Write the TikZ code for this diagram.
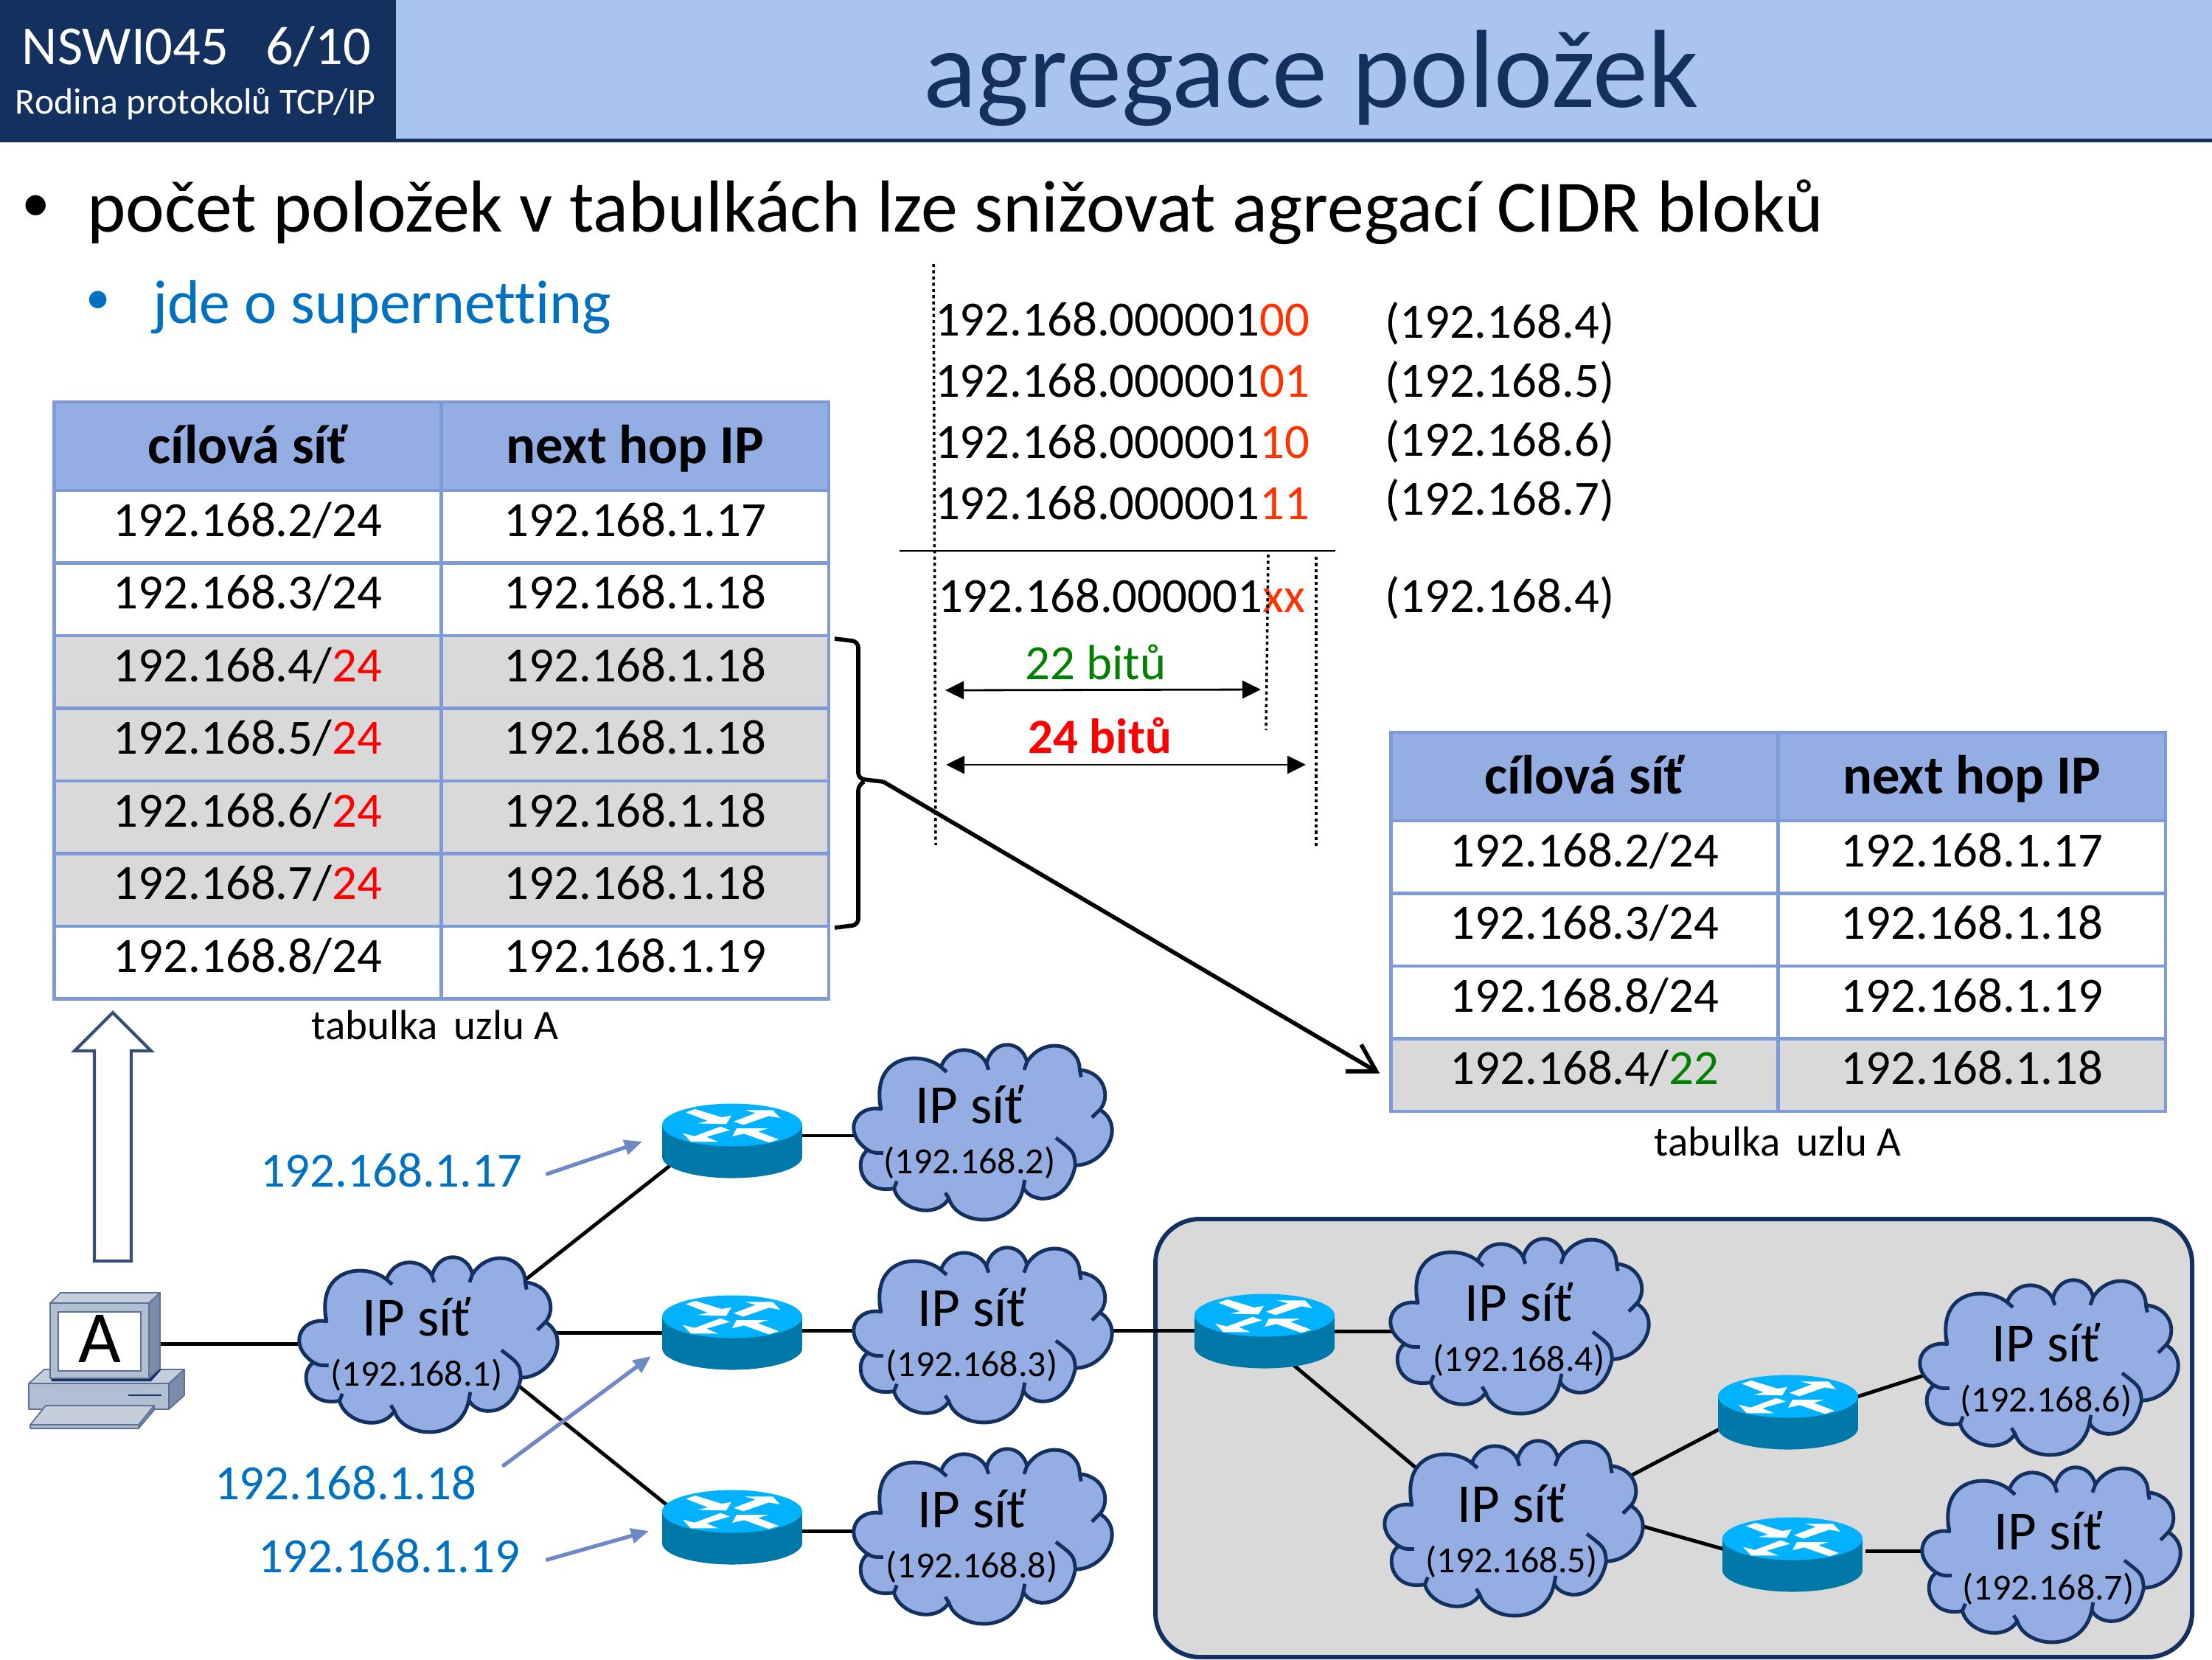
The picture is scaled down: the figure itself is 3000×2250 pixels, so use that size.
\documentclass[tikz,border=0pt]{standalone}
\usepackage{fontspec}
\setmainfont[Ligatures=NoCommon]{Carlito}
\usepackage{tikz}
\usepackage{xcolor}
\definecolor{navy_dark}{HTML}{14305F}
\definecolor{band_blue}{HTML}{A9C4EE}
\definecolor{text_blue}{HTML}{0070C0}
\definecolor{cell_line}{HTML}{7F9AD8}
\definecolor{head_blue}{HTML}{94AEE3}
\definecolor{row_grey}{HTML}{D9D9D9}
\definecolor{bit_red}{HTML}{FF3300}
\definecolor{bit_green}{HTML}{008000}
\definecolor{hint_blue}{HTML}{6F88C6}
\definecolor{router_top}{HTML}{00B2FF}
\definecolor{router_side}{HTML}{0078A8}
\definecolor{pc_face}{HTML}{B2BED2}
\definecolor{pc_top}{HTML}{C5CEDC}
\definecolor{pc_side}{HTML}{7B8CA8}
\definecolor{pc_line}{HTML}{5D7194}
\usetikzlibrary{positioning,calc,arrows.meta}
\pgfdeclarelayer{links}
\pgfsetlayers{links,main}
\newcommand{\netaddr}[1]{{\fontsize{14.2}{19.3}\selectfont #1}}
\tikzset{CELL/.style={rectangle,draw=cell_line,line width=1.3pt,outer sep=0pt,inner sep=0pt,minimum width=5.25cm,minimum height=0.984cm,text height=12pt,text depth=4.6pt,font=\fontsize{19}{23}\selectfont}}
\tikzset{HEADCELL/.style={CELL,fill=head_blue,minimum height=1.2cm,text height=16pt,text depth=2.4pt,font=\fontsize{21.2}{25}\selectfont\bfseries}}
\tikzset{GREYCELL/.style={CELL,fill=row_grey}}
\tikzset{PLAIN/.style={inner sep=0pt,outer sep=0pt,anchor=base west,font=\fontsize{19}{23}\selectfont}}
\tikzset{CAPTION/.style={inner sep=0pt,anchor=base,font=\fontsize{16.2}{20}\selectfont}}
\tikzset{LINK/.style={line width=1.4pt,black}}
\tikzset{HINT/.style={line width=1.5pt,hint_blue,-{Triangle[length=0.24cm,width=0.2cm]}}}
\tikzset{SPAN/.style={line width=0.8pt,black,{Triangle[length=0.25cm,width=0.24cm]}-{Triangle[length=0.25cm,width=0.24cm]}}}
\tikzset{GUIDE/.style={line width=1pt,black,dash pattern=on 1.2pt off 1.2pt}}
\tikzset{ROUTERBOX/.style={rectangle,inner sep=0pt,outer sep=0pt,minimum width=1.9cm,minimum height=1.01cm}}
\tikzset{CLOUDTEXT/.style={inner sep=0pt,align=center,font=\fontsize{21.3}{19.3}\selectfont}}
\tikzset{CLOUDLINE/.style={draw=navy_dark,line width=1.4pt,line join=round}}
\tikzset{PCPART/.style={draw=pc_line,line width=0.5pt,line join=round}}
\tikzset{pics/router/.style={code={
  \fill[router_side] (-95,-21.5) rectangle (95,21.5);
  \fill[router_side] (0,21.5) ellipse (95 and 29);
  \fill[router_top] (0,-21.5) ellipse (95 and 29);
  \fill[white] (-63,-38.7) -- (-50,-43) -- (-14,-32) -- (-1,-34.3) -- (-8,-22.7) -- (-47,-23.7) -- (-33,-27) -- cycle;
  \fill[white] (2,-26.3) -- (32,-37.7) -- (17,-41.7) -- (55,-41.7) -- (65,-31) -- (50,-33.7) -- (15,-21.7) -- cycle;
  \fill[white] (-16,-19.3) -- (-3,-14.7) -- (-35,-5.3) -- (-19,1.3) -- (-56,1.3) -- (-67,-10.3) -- (-51,-6.3) -- cycle;
  \fill[white] (0,-6) -- (6,-17) -- (49,-17) -- (35,-12.7) -- (63,-2) -- (50,2.3) -- (16,-9.7) -- cycle;
}}}
\tikzset{pics/ipcloud/.style={code={
  \begin{scope}[scale=0.98]
  \path[CLOUDLINE,fill=head_blue] (-140,-34)
    .. controls (-175,-40) and (-195,-2) .. (-158,23)
    .. controls (-178,35) and (-170,85) .. (-122,76)
    .. controls (-115,105) and (-65,120) .. (-46,90)
    .. controls (-35,128) and (45,135) .. (57,75)
    .. controls (68,98) and (118,100) .. (129,44)
    .. controls (170,44) and (200,-10) .. (163,-33)
    .. controls (178,-50) and (170,-85) .. (135,-88)
    .. controls (135,-125) and (85,-135) .. (62,-99)
    .. controls (55,-130) and (15,-132) .. (6,-97)
    .. controls (-5,-120) and (-45,-125) .. (-57,-92)
    .. controls (-85,-115) and (-155,-110) .. (-140,-34) -- cycle;
  \path[CLOUDLINE] (-158,23) .. controls (-150,27) .. (-137,27);
  \path[CLOUDLINE] (-122,76) -- (-118,66);
  \path[CLOUDLINE] (-46,90) -- (-51,82);
  \path[CLOUDLINE] (57,75) -- (59,64);
  \path[CLOUDLINE] (129,44) .. controls (127,25) .. (102,6);
  \path[CLOUDLINE] (163,-33) -- (152,-22);
  \path[CLOUDLINE] (135,-88) -- (137,-78);
  \path[CLOUDLINE] (62,-99) -- (58,-88);
  \path[CLOUDLINE] (6,-97) -- (9,-88);
  \path[CLOUDLINE] (-57,-92) -- (-49,-85);
  \path[CLOUDLINE] (-140,-34) -- (-142,-45);
  \end{scope}
}}}

\begin{document}
\begin{tikzpicture}[x=0.01cm,y=-0.01cm]
\useasboundingbox (0,0) rectangle (3000,2250);

\fill[band_blue] (0,0) rectangle (3000,193);
\fill[navy_dark] (0,188) rectangle (3000,193);
\fill[navy_dark] (0,0) rectangle (537,193);

\node[PLAIN,white,font=\fontsize{21.2}{26}\selectfont] (n_course) at (30,87) {NSWI045\ \ \ 6/10};
\node[PLAIN,white,font=\fontsize{14.15}{17}\selectfont] (n_family) at (21,154) {Rodina protokolů TCP/IP};
\node[inner sep=0pt,anchor=base,navy_dark,font=\fontsize{42.8}{50}\selectfont] (n_title) at (1778,145) {agregace položek};

\node[PLAIN,font=\fontsize{22}{26}\selectfont] (n_bullet) at (29,300) {•};
\node[PLAIN,font=\fontsize{28.4}{34}\selectfont] (n_point) at (118,314) {počet položek v tabulkách lze snižovat agregací CIDR bloků};
\node[PLAIN,text_blue,font=\fontsize{19}{23}\selectfont] (n_subbullet) at (116,425) {•};
\node[PLAIN,text_blue,font=\fontsize{23.8}{28}\selectfont] (n_subpoint) at (207,438) {jde o supernetting};

\node[HEADCELL] (n_lh_net) at (336,605) {cílová síť};
\node[HEADCELL, right=0pt of n_lh_net] (n_lh_hop) {next hop IP};
\node[CELL, below=0pt of n_lh_net] (n_l2_net) {192.168.2/24};
\node[CELL, below=0pt of n_lh_hop] (n_l2_hop) {192.168.1.17};
\node[CELL, below=0pt of n_l2_net] (n_l3_net) {192.168.3/24};
\node[CELL, below=0pt of n_l2_hop] (n_l3_hop) {192.168.1.18};
\node[GREYCELL, below=0pt of n_l3_net] (n_l4_net) {192.168.4/\textcolor{red}{24}};
\node[GREYCELL, below=0pt of n_l3_hop] (n_l4_hop) {192.168.1.18};
\node[GREYCELL, below=0pt of n_l4_net] (n_l5_net) {192.168.5/\textcolor{red}{24}};
\node[GREYCELL, below=0pt of n_l4_hop] (n_l5_hop) {192.168.1.18};
\node[GREYCELL, below=0pt of n_l5_net] (n_l6_net) {192.168.6/\textcolor{red}{24}};
\node[GREYCELL, below=0pt of n_l5_hop] (n_l6_hop) {192.168.1.18};
\node[GREYCELL, below=0pt of n_l6_net] (n_l7_net) {192.168.7/\textcolor{red}{24}};
\node[GREYCELL, below=0pt of n_l6_hop] (n_l7_hop) {192.168.1.18};
\node[CELL, below=0pt of n_l7_net] (n_l8_net) {192.168.8/24};
\node[CELL, below=0pt of n_l7_hop] (n_l8_hop) {192.168.1.19};
\node[CAPTION] (n_lcaption) at (590,1409) {tabulka\, uzlu A};

\node[HEADCELL] (n_rh_net) at (2149,1053) {cílová síť};
\node[HEADCELL, right=0pt of n_rh_net] (n_rh_hop) {next hop IP};
\node[CELL, below=0pt of n_rh_net] (n_r2_net) {192.168.2/24};
\node[CELL, below=0pt of n_rh_hop] (n_r2_hop) {192.168.1.17};
\node[CELL, below=0pt of n_r2_net] (n_r3_net) {192.168.3/24};
\node[CELL, below=0pt of n_r2_hop] (n_r3_hop) {192.168.1.18};
\node[CELL, below=0pt of n_r3_net] (n_r8_net) {192.168.8/24};
\node[CELL, below=0pt of n_r3_hop] (n_r8_hop) {192.168.1.19};
\node[GREYCELL, below=0pt of n_r8_net] (n_r4_net) {192.168.4/\textcolor{bit_green}{22}};
\node[GREYCELL, below=0pt of n_r8_hop] (n_r4_hop) {192.168.1.18};
\node[CAPTION] (n_rcaption) at (2411,1567) {tabulka\, uzlu A};

\node[PLAIN] (n_bin4) at (1268,455) {192.168.000001\textcolor{bit_red}{00}};
\node[PLAIN] (n_bin5) at (1268,538) {192.168.000001\textcolor{bit_red}{01}};
\node[PLAIN] (n_bin6) at (1268,621) {192.168.000001\textcolor{bit_red}{10}};
\node[PLAIN] (n_bin7) at (1268,704) {192.168.000001\textcolor{bit_red}{11}};
\node[PLAIN] (n_dec4) at (1878,458) {(192.168.4)};
\node[PLAIN] (n_dec5) at (1878,538) {(192.168.5)};
\node[PLAIN] (n_dec6) at (1878,618) {(192.168.6)};
\node[PLAIN] (n_dec7) at (1878,698) {(192.168.7)};
\draw[line width=0.8pt] (1220,747) -- (1811,747);
\node[PLAIN] (n_binagg) at (1272,830) {192.168.000001\textcolor{bit_red}{xx}};
\node[PLAIN] (n_decagg) at (1878,830) {(192.168.4)};

\node[PLAIN,anchor=base,bit_green] (n_bits22) at (1486,921) {22 bitů};
\node[PLAIN,anchor=base,red,font=\fontsize{19}{23}\selectfont\bfseries] (n_bits24) at (1492,1021) {24 bitů};
\coordinate (c_guide_top) at (1266,358);
\coordinate (c_guide_bot) at (1269,1146);
\draw[GUIDE] (c_guide_top) -- (c_guide_bot);
\draw[GUIDE] (1720,752) -- (1717,990);
\draw[GUIDE] (1785,755) -- (1785,1147);
\draw[SPAN] (1282,936) -- (1710,935);
\draw[SPAN] (1283,1037) -- (1771,1037);

\coordinate (c_brace_tip) at (1198,1060);
\draw[line width=1.6pt,rounded corners=0.08cm] (1132,866) -- (1164,870) -- (1164,1056) -- (c_brace_tip);
\draw[line width=1.6pt,rounded corners=0.08cm] (1132,1258) -- (1164,1254) -- (1164,1064) -- (1172,1060);
\draw[line width=1.6pt,-{Straight Barb[length=0.36cm,width=0.42cm]}] (c_brace_tip) -- ($(n_r4_net.west)+(-15,-2)$);

\draw[draw=navy_dark!85,fill=white,line width=1.2pt] (128,1710) -- (128,1425) -- (101,1425) -- (153,1373) -- (205,1425) -- (178,1425) -- (178,1710) -- cycle;

\path[PCPART,fill=pc_top] (39,1876) -- (60,1857) -- (250,1857) -- (229,1876) -- cycle;
\path[PCPART,fill=pc_side] (229,1876) -- (250,1857) -- (250,1892) -- (229,1911) -- cycle;
\path[PCPART,fill=pc_face] (39,1876) rectangle (229,1911);
\fill[navy_dark] (69,1869) -- (70,1873) -- (205,1873) -- (219,1857) -- (212,1857) -- (202,1869) -- cycle;
\path[PCPART,fill=pc_top] (68,1767) -- (82,1753) -- (217,1753) -- (202,1767) -- cycle;
\path[PCPART,fill=pc_side] (202,1767) -- (217,1753) -- (217,1855) -- (202,1869) -- cycle;
\path[PCPART,fill=pc_face] (68,1767) rectangle (202,1869);
\draw[navy_dark,line width=0.8pt] (174,1892) -- (219,1892);
\path[PCPART,fill=pc_side] (188,1932) -- (209,1906) -- (209,1912) -- (188,1937) -- cycle;
\path[PCPART,fill=pc_top] (41,1932) -- (62,1906) -- (209,1906) -- (188,1932) -- cycle;
\path[PCPART,fill=pc_face] (41,1932) rectangle (188,1937);
\node[rectangle,draw=pc_line,line width=0.5pt,fill=white,inner sep=0pt,minimum width=1.12cm,minimum height=0.8cm,text depth=2.3pt,font=\fontsize{28.4}{30}\selectfont] (n_pc) at (135,1819) {A};
\coordinate (c_pc_port) at (218,1822);

\node[ROUTERBOX] (n_rt1) at (993,1547) {};
\node[ROUTERBOX] (n_rt2) at (993,1807) {};
\node[ROUTERBOX] (n_rt3) at (993,2071) {};
\node[ROUTERBOX] (n_rt4) at (1715,1805) {};
\node[ROUTERBOX] (n_rt5) at (2425,1915) {};
\node[ROUTERBOX] (n_rt6) at (2431,2108) {};
\pic at (n_rt1) {router};
\pic at (n_rt2) {router};
\pic at (n_rt3) {router};
\pic at (n_rt4) {router};
\pic at (n_rt5) {router};
\pic at (n_rt6) {router};

\pic at (580,1825) {ipcloud};
\node[CLOUDTEXT] (n_net1) at (565,1823) {IP síť\\ \netaddr{(192.168.1)}};
\pic at (1332,1537) {ipcloud};
\node[CLOUDTEXT] (n_net2) at (1315,1535) {IP síť\\ \netaddr{(192.168.2)}};
\pic at (1332,1812) {ipcloud};
\node[CLOUDTEXT] (n_net3) at (1318,1810) {IP síť\\ \netaddr{(192.168.3)}};
\pic at (1332,2085) {ipcloud};
\node[CLOUDTEXT] (n_net8) at (1318,2083) {IP síť\\ \netaddr{(192.168.8)}};
\pic at (2060,1800) {ipcloud};
\node[CLOUDTEXT] (n_net4) at (2060,1803) {IP síť\\ \netaddr{(192.168.4)}};
\pic at (2052,2074) {ipcloud};
\node[CLOUDTEXT] (n_net5) at (2050,2076) {IP síť\\ \netaddr{(192.168.5)}};
\pic at (2778,1856) {ipcloud};
\node[CLOUDTEXT] (n_net6) at (2775,1858) {IP síť\\ \netaddr{(192.168.6)}};
\pic at (2781,2110) {ipcloud};
\node[CLOUDTEXT] (n_net7) at (2778,2113) {IP síť\\ \netaddr{(192.168.7)}};

\node[PLAIN,text_blue] (n_ip17) at (353,1609) {192.168.1.17};
\node[PLAIN,text_blue] (n_ip18) at (291,2033) {192.168.1.18};
\node[PLAIN,text_blue] (n_ip19) at (350,2132) {192.168.1.19};
\draw[HINT] ($(n_ip17.east)+(32,6)$) -- ($(n_rt1.west)+(-27,1)$);
\draw[HINT] ($(n_ip18.east)+(35,-22)$) -- ($(n_rt2.west)+(-15,32)$);
\draw[HINT] ($(n_ip19.east)+(35,6)$) -- ($(n_rt3.west)+(-18,5)$);

\begin{pgfonlayer}{links}
\draw[fill=row_grey,draw=navy_dark,line width=1.7pt,rounded corners=0.6cm] (1567,1653) rectangle (2973,2247);
\draw[LINK] (c_pc_port) -- (c_pc_port-|n_net1);
\draw[LINK] ($(n_net1)+(15,17)$) -- ($(n_rt1)+(0,-33)$);
\draw[LINK] (n_net1.center|-n_rt2.west) -- (n_rt2.west);
\draw[LINK] ($(n_net1)+(15,-43)$) -- ($(n_rt3)+(0,41)$);
\draw[LINK] ($(n_rt1.east|-n_net2)+(0,5)$) -- ($(n_net2)+(0,5)$);
\draw[LINK] ($(n_rt2.east)+(0,-3)$) -- ($(n_rt4.west)+(0,-1)$);
\draw[LINK] ($(n_rt3.east)+(0,5)$) -- ($(n_rt3.east-|n_net8)+(0,5)$);
\draw[LINK] (n_rt4.east) -- (n_rt4.east-|n_net4);
\draw[LINK] ($(n_rt4)+(0,13)$) -- ($(n_net5)+(2,25)$);
\draw[LINK] ($(n_net5)+(2,9)$) -- ($(n_rt5)+(0,-26)$);
\draw[LINK] ($(n_rt5)+(0,9)$) -- ($(n_net6)+(3,-47)$);
\draw[LINK] ($(n_net5)+(2,-56)$) -- ($(n_rt6)+(0,19)$);
\draw[LINK] ($(n_rt6.east)+(4,-5)$) -- ($(n_rt6.east-|n_net7)+(0,-5)$);
\end{pgfonlayer}

\end{tikzpicture}
\end{document}
